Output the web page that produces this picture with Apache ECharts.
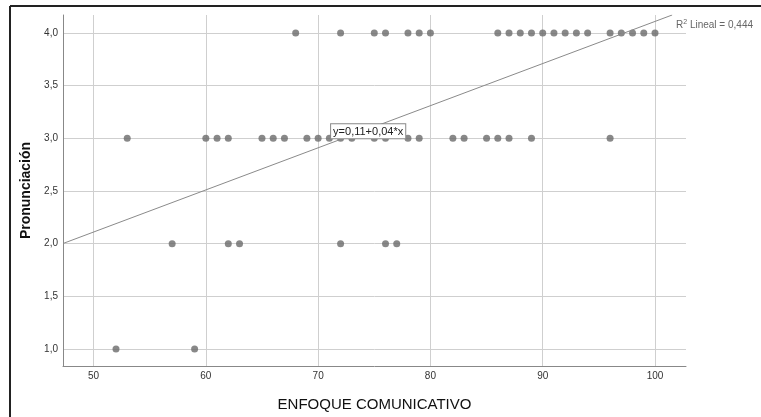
<!DOCTYPE html>
<html><head><meta charset="utf-8">
<script src="https://cdn.jsdelivr.net/npm/echarts@6/dist/echarts.min.js"></script>
<style>html,body{margin:0;padding:0;background:#fff}#c{width:761px;height:417px}</style>
</head><body><div id="c"></div>
<script>
// Data
const xTicks = [50, 60, 70, 80, 90, 100];
const yTicks = [1.0, 1.5, 2.0, 2.5, 3.0, 3.5, 4.0];
const pronLevels = [4, 3, 2, 1];
const enfoqueAt4 = [68,72,75,76,78,79,80,86,87,88,89,90,91,92,93,94,96,97,98,99,100];
const enfoqueAt3 = [53,60,61,62,65,66,67,69,70,71,72,73,75,76,78,79,82,83,85,86,87,89,96];
const enfoqueAt2 = [57,62,63,72,76,77];
const enfoqueAt1 = [52,59];
const fitIntercept = 0.11;
const fitSlope = 0.04;
const r2Text = '0,444';
const xName = 'ENFOQUE COMUNICATIVO';
const yName = 'Pronunciación';

const xMin = 47.28, xMax = 102.76, yMin = 0.838, yMax = 4.171;

const groups = [enfoqueAt4, enfoqueAt3, enfoqueAt2, enfoqueAt1];
const points = [];
groups.forEach((g, i) => g.forEach(x => points.push([x, pronLevels[i]])));

const fitY = x => fitIntercept + fitSlope * x;
const xEnd = Math.min(xMax, (yMax - fitIntercept) / fitSlope);
const fitLine = [[xMin, fitY(xMin)], [xEnd, fitY(xEnd)]];
const eqX = 71.2;

const fmt = v => v.toFixed(1).replace('.', ',');
const ff = '"Liberation Sans", Arial, sans-serif';

const chart = echarts.init(document.getElementById('c'), null, {renderer: 'canvas'});
chart.setOption({
  animation: false,
  backgroundColor: '#fff',
  title: {
    right: 3, top: 14,
    text: '{a|R}{s|2}{a| Lineal = ' + r2Text + '}',
    textStyle: {
      fontWeight: 'normal',
      rich: {
        a: {fontFamily: ff, fontSize: 10, fontWeight: 'normal', color: '#666'},
        s: {fontFamily: ff, fontSize: 7, fontWeight: 'normal', color: '#666', verticalAlign: 'top', padding: [0, 0, 6, 0]}
      }
    }
  },
  graphic: [
    {type: 'line', shape: {x1: 10, y1: 6, x2: 761, y2: 6}, style: {stroke: '#222', lineWidth: 2}, silent: true},
    {type: 'line', shape: {x1: 10, y1: 6, x2: 10, y2: 417}, style: {stroke: '#222', lineWidth: 2}, silent: true}
  ],
  grid: {left: 63, right: 75, top: 15, bottom: 51},
  xAxis: {
    type: 'value', min: xMin, max: xMax,
    name: xName, nameLocation: 'middle', nameGap: 31,
    nameTextStyle: {fontFamily: ff, fontSize: 15, color: '#111'},
    axisLine: {show: true, lineStyle: {color: '#888', width: 1}},
    axisTick: {show: false, customValues: xTicks},
    axisLabel: {customValues: xTicks, fontFamily: ff, fontSize: 10, color: '#333', margin: 5},
    splitLine: {show: true, lineStyle: {color: '#cfcfcf', width: 1}}
  },
  yAxis: {
    type: 'value', min: yMin, max: yMax,
    name: yName, nameLocation: 'middle', nameGap: 30,
    nameTextStyle: {fontFamily: ff, fontSize: 14, fontWeight: 'bold', color: '#111'},
    axisLine: {show: true, lineStyle: {color: '#888', width: 1}},
    axisTick: {show: false, customValues: yTicks},
    axisLabel: {customValues: yTicks, formatter: fmt, fontFamily: ff, fontSize: 10, color: '#333', margin: 5},
    splitLine: {show: true, lineStyle: {color: '#cfcfcf', width: 1}}
  },
  series: [
    {
      type: 'line', data: fitLine, symbol: 'none', silent: true,
      lineStyle: {color: '#8a8a8a', width: 1}, z: 3,
      markPoint: {
        symbol: 'rect', symbolSize: 1, itemStyle: {color: 'transparent'},
        data: [{coord: [eqX, fitY(eqX)]}],
        label: {
          show: true, position: [0, 0], align: 'left', verticalAlign: 'bottom',
          offset: [0, -4],
          formatter: 'y=0,11+0,04*x',
          fontFamily: ff, fontSize: 11, color: '#222',
          backgroundColor: '#fff', borderColor: '#888', borderWidth: 1, padding: [2, 2, 1, 2]
        }
      }
    },
    {
      type: 'scatter', data: points, symbol: 'circle', symbolSize: 7,
      itemStyle: {color: '#6a6a6a'}, z: 2
    }
  ]
});
</script></body></html>
